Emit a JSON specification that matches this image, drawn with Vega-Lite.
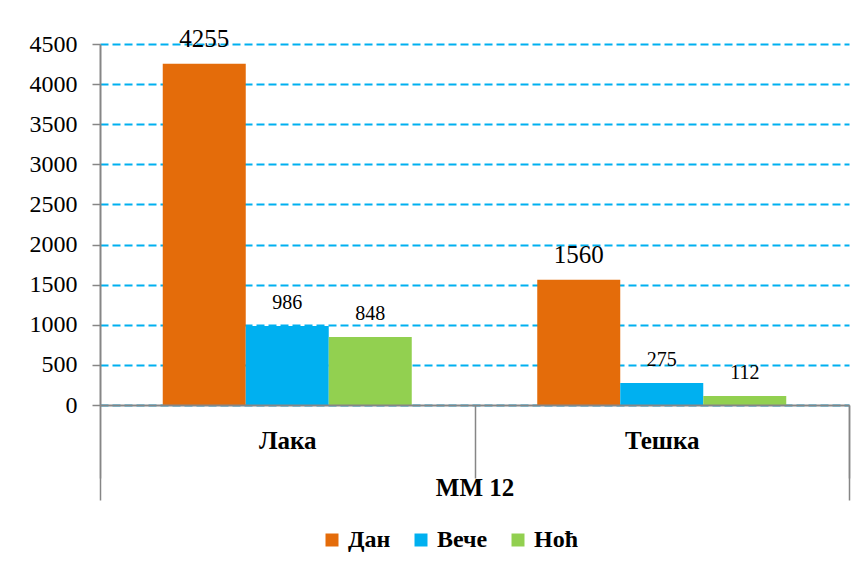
{
  "$schema": "https://vega.github.io/schema/vega-lite/v6.json",
  "autosize": {"type": "none"},
  "padding": {"left": 100, "top": 44, "right": 13, "bottom": 165},
  "width": 749,
  "height": 361,
  "background": "white",
  "config": {
    "font": "Liberation Serif, Times New Roman, serif",
    "view": {"stroke": null},
    "axis": {"labelFont": "Liberation Serif, Times New Roman, serif", "titleFont": "Liberation Serif, Times New Roman, serif"},
    "legend": {"labelFont": "Liberation Serif, Times New Roman, serif", "titleFont": "Liberation Serif, Times New Roman, serif"},
    "text": {"font": "Liberation Serif, Times New Roman, serif"}
  },
  "data": {
    "values": [
      {"cat": "Лака", "series": "Дан", "value": 4255, "grp": "MM 12"},
      {"cat": "Лака", "series": "Вече", "value": 986, "grp": "MM 12"},
      {"cat": "Лака", "series": "Ноћ", "value": 848, "grp": "MM 12"},
      {"cat": "Тешка", "series": "Дан", "value": 1560, "grp": "MM 12"},
      {"cat": "Тешка", "series": "Вече", "value": 275, "grp": "MM 12"},
      {"cat": "Тешка", "series": "Ноћ", "value": 112, "grp": "MM 12"}
    ]
  },
  "layer": [
    {
      "encoding": {
        "x": {
          "field": "cat",
          "type": "nominal",
          "sort": ["Лака", "Тешка"],
          "scale": {"paddingInner": 0, "paddingOuter": 0},
          "axis": {
            "orient": "bottom",
            "title": null,
            "labelAngle": 0,
            "labelFontSize": 25,
            "labelFontWeight": "bold",
            "labelColor": "black",
            "labelBaseline": "middle",
            "labelPadding": -38,
            "tickBand": "extent",
            "tickSize": 73,
            "tickColor": "#868686",
            "tickWidth": 1.5,
            "domainColor": "#868686",
            "domainWidth": 2,
            "grid": false,
            "zindex": 1
          }
        },
        "xOffset": {
          "field": "series",
          "type": "nominal",
          "sort": ["Дан", "Вече", "Ноћ"],
          "scale": {"paddingInner": 0, "paddingOuter": 0.756}
        },
        "y": {
          "field": "value",
          "type": "quantitative",
          "scale": {"domain": [0, 4500], "nice": false},
          "axis": {
            "title": null,
            "format": "d",
            "values": [0, 500, 1000, 1500, 2000, 2500, 3000, 3500, 4000, 4500],
            "labelFontSize": 24,
            "labelColor": "black",
            "labelPadding": 15,
            "tickSize": 8,
            "tickColor": "#868686",
            "tickWidth": 1.5,
            "domainColor": "#868686",
            "domainWidth": 2,
            "grid": true,
            "gridColor": "#00B0F0",
            "gridDash": [8, 4],
            "gridWidth": 2
          }
        }
      },
      "layer": [
        {
          "mark": {"type": "bar"},
          "encoding": {
            "color": {
              "field": "series",
              "type": "nominal",
              "scale": {"domain": ["Дан", "Вече", "Ноћ"], "range": ["#E46C0A", "#00B0F0", "#92D050"]},
              "legend": {
                "title": null,
                "orient": "none",
                "direction": "horizontal",
                "legendX": 220,
                "legendY": 484,
                "symbolType": "square",
                "symbolSize": 169,
                "symbolStrokeWidth": 0,
                "labelFontSize": 24,
                "labelFontWeight": "bold",
                "labelColor": "black",
                "labelOffset": 4,
                "columnPadding": 18
              }
            }
          }
        },
        {
          "mark": {"type": "text", "baseline": "alphabetic", "dy": -17, "color": "black"},
          "encoding": {
            "text": {"field": "value", "type": "quantitative", "format": "d"},
            "size": {"condition": {"test": "datum.series === 'Дан'", "value": 25}, "value": 20}
          }
        }
      ]
    },
    {
      "mark": {"type": "bar", "opacity": 0},
      "encoding": {
        "x": {
          "field": "grp",
          "type": "nominal",
          "scale": {"paddingInner": 0, "paddingOuter": 0},
          "axis": {
            "orient": "bottom",
            "title": null,
            "labelAngle": 0,
            "labelFontSize": 25,
            "labelFontWeight": "bold",
            "labelColor": "black",
            "labelBaseline": "middle",
            "labelPadding": -13,
            "tickBand": "extent",
            "tickSize": 95,
            "tickColor": "#868686",
            "tickWidth": 1.5,
            "domain": false,
            "grid": false
          }
        },
        "y": {"datum": 0, "type": "quantitative"}
      }
    }
  ],
  "resolve": {"scale": {"x": "independent"}, "axis": {"x": "independent"}}
}
